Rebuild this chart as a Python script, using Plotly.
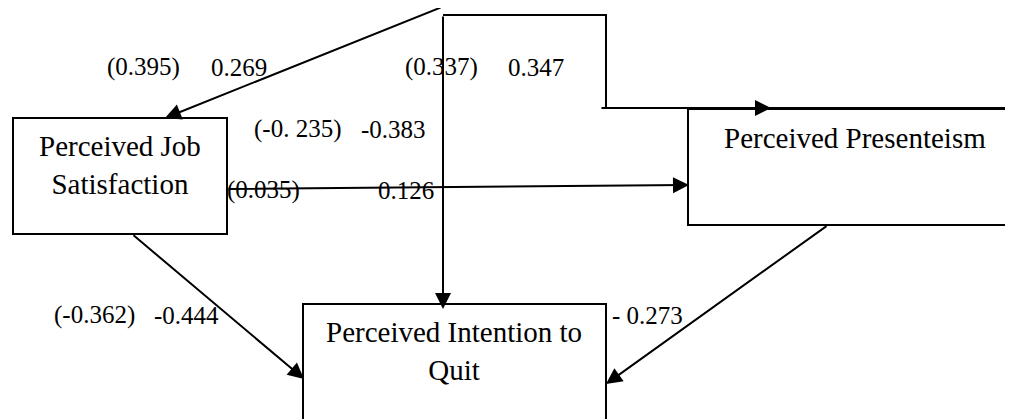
import plotly.graph_objects as go

# ---- data ----
node_labels = ["Perceived Job<br>Satisfaction", "Perceived Presenteism", "Perceived Intention to<br>Quit"]
std_coefs = ["(0.395)", "(0.337)", "(-0. 235)", "(0.035)", "(-0.362)"]
coefs = ["0.269", "0.347", "-0.383", "0.126", "-0.444", "- 0.273"]

# ---- layout geometry (pixel space) ----
W, H = 1013, 419
OFF = 8  # page body margin compensation
boxes = [(13, 118, 227, 234), (688, 109, 1030, 225), (303, 304, 606, 440)]
node_text_pos = [(120, 165), (855, 138), (454, 351)]
std_pos = [(105, 67), (403, 67), (252, 129), (225, 190), (52, 315)]
coef_pos = [(209, 67), (506, 67), (359, 129), (376, 190), (152, 315), (610, 315)]

# arrows: (tail_x, tail_y, tip_x, tip_y)
arrows = [
    (442, 7, 165, 118),
    (443, 15, 443, 309),
    (600, 108, 771, 108),
    (227, 189, 689, 185),
    (132, 234, 304, 379),
    (828, 225, 606, 384),
]
polyline = [(443, 15), (606, 15), (606, 108), (1030, 108)]

FONT = "Liberation Serif"
LW = 2

fig = go.Figure()
fig.add_trace(go.Scatter(x=[OFF, W + OFF], y=[OFF, H + OFF], mode="markers", marker=dict(opacity=0),
                         hoverinfo="skip", showlegend=False))

shapes = []
for (x0, y0, x1, y1) in boxes:
    shapes.append(dict(type="rect", xref="x", yref="y", x0=x0, y0=y0, x1=x1, y1=y1,
                       line=dict(color="black", width=LW), fillcolor="rgba(0,0,0,0)"))
path = "M " + " L ".join(f"{x},{y}" for x, y in polyline)
shapes.append(dict(type="path", xref="x", yref="y", path=path, line=dict(color="black", width=LW)))

annotations = []
for lab, (x, y) in zip(node_labels, node_text_pos):
    annotations.append(dict(x=x, y=y, xref="x", yref="y", text=lab, showarrow=False,
                            xanchor="center", yanchor="middle", align="center",
                            font=dict(family=FONT, size=29, color="black")))
for lab, (x, y) in zip(std_coefs, std_pos):
    annotations.append(dict(x=x, y=y, xref="x", yref="y", text=lab, showarrow=False,
                            xanchor="left", yanchor="middle",
                            font=dict(family=FONT, size=25, color="black")))
for lab, (x, y) in zip(coefs, coef_pos):
    annotations.append(dict(x=x, y=y, xref="x", yref="y", text=lab, showarrow=False,
                            xanchor="left", yanchor="middle",
                            font=dict(family=FONT, size=25, color="black")))
for (tx, ty, hx, hy) in arrows:
    annotations.append(dict(x=hx, y=hy, ax=tx, ay=ty, xref="x", yref="y", axref="x", ayref="y",
                            text="", showarrow=True, arrowhead=2, arrowsize=1.6,
                            arrowwidth=LW, arrowcolor="black"))

fig.update_layout(
    width=W, height=H, margin=dict(l=0, r=0, t=0, b=0),
    paper_bgcolor="white", plot_bgcolor="white",
    xaxis=dict(range=[OFF, W + OFF], visible=False, fixedrange=True),
    yaxis=dict(range=[H + OFF, OFF], visible=False, fixedrange=True),
    shapes=shapes, annotations=annotations, showlegend=False,
)
fig.write_html("out.html")
